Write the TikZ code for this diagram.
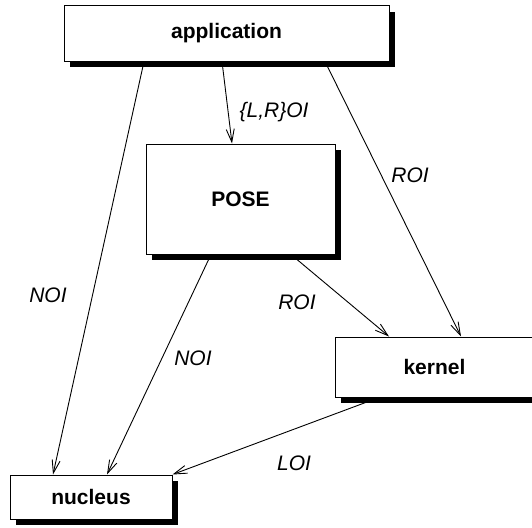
\documentclass[tikz,border=0pt]{standalone}
\usepackage{fontspec}
\setmainfont{Liberation Sans}
\usetikzlibrary{arrows.meta}

\tikzset{
  module/.style={draw, line width=1pt, fill=white,
    font=\fontsize{21}{25}\selectfont\bfseries},
  call/.style={-{Straight Barb[length=13pt,width=8pt]}, line width=0.9pt},
  iface/.style={font=\fontsize{21}{25}\selectfont\itshape}
}

\begin{document}
\begin{tikzpicture}[x=1pt, y=-1pt]
\useasboundingbox (0,0) rectangle (532,527);

\node[module, minimum width=325pt, minimum height=55pt] (app) at (226.5,33.5) {application};
\node[module, minimum width=189pt, minimum height=110pt] (pose) at (240.5,199) {POSE};
\node[module, minimum width=199pt, minimum height=60pt] (kern) at (434.5,367) {kernel};
\node[module, minimum width=162pt, minimum height=44pt] (nuc) at (91,497) {nucleus};

% shadows
\fill[black] (389.5,12) rectangle (395,67);
\fill[black] (70,61.5) rectangle (395,67);
\fill[black] (335.5,150) rectangle (341,260);
\fill[black] (152,254.5) rectangle (341,260);
\fill[black] (341,397.5) rectangle (540,403);
\fill[black] (172.5,481) rectangle (178,525);
\fill[black] (16,519.5) rectangle (178,525);

% application talks to everyone
\draw[call] (app.south -| 144,0) -- (nuc.north -| 53,0);
\draw[call] (app.south -| 222,0) -- (pose.north -| 232,0);
\draw[call] (app.south -| 325,0) -- (kern.north -| 461,0);

% POSE below
\draw[call] (pose.south -| 291,0) -- (kern.north -| 389,0);
\draw[call] (pose.south -| 211,0) -- (nuc.north -| 107,0);

% kernel to nucleus
\draw[call] (kern.south -| 379,0) -- (nuc.north east);

\node[iface] (lrlabel) at (274,112) {\{L,R\}OI};
\node[iface] (roitop) at (410,175) {ROI};
\node[iface] (roimid) at (297,302) {ROI};
\node[iface] (noileft) at (48,295) {NOI};
\node[iface] (noimid) at (193,358) {NOI};
\node[iface] (loi) at (294,463) {LOI};

\end{tikzpicture}
\end{document}
